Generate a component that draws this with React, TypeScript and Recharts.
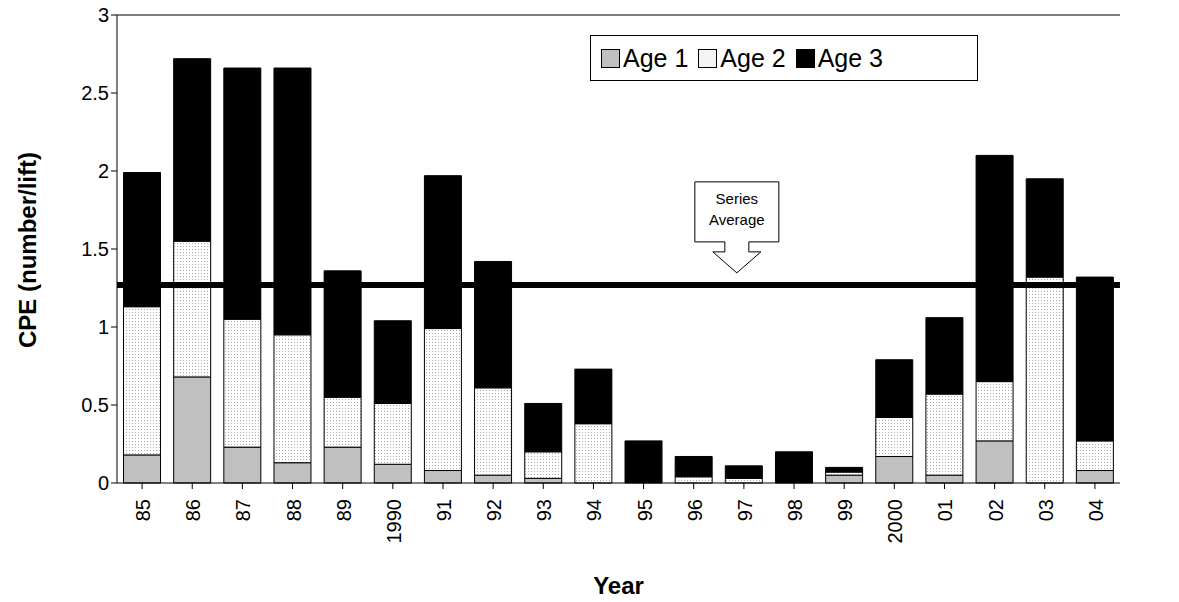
import { BarChart, Bar, XAxis, YAxis, ReferenceLine } from "recharts";

const years = ["85", "86", "87", "88", "89", "1990", "91", "92", "93", "94", "95", "96", "97", "98", "99", "2000", "01", "02", "03", "04"];
const age1 = [0.18, 0.68, 0.23, 0.13, 0.23, 0.12, 0.08, 0.05, 0.03, 0, 0, 0, 0, 0, 0.05, 0.17, 0.05, 0.27, 0, 0.08];
const age2 = [0.95, 0.87, 0.82, 0.82, 0.32, 0.39, 0.91, 0.56, 0.17, 0.38, 0, 0.04, 0.03, 0, 0.02, 0.25, 0.52, 0.38, 1.32, 0.19];
const age3 = [0.86, 1.17, 1.61, 1.71, 0.81, 0.53, 0.98, 0.81, 0.31, 0.35, 0.27, 0.13, 0.08, 0.2, 0.03, 0.37, 0.49, 1.45, 0.63, 1.05];
const seriesAverage = 1.27;
const yTicks = [0, 0.5, 1, 1.5, 2, 2.5, 3];

const data = years.map((y, i) => ({ year: y, age1: age1[i], age2: age2[i], age3: age3[i] }));

const font = "Arial, 'Liberation Sans', sans-serif";

const Callout = (props: any) => {
  const { viewBox } = props;
  const cx = viewBox.x + viewBox.width * 0.618;
  const ly = viewBox.y;
  const top = ly - 103, boxB = ly - 43;
  const w = 42;
  const d = `M${cx - w},${top} H${cx + w} V${boxB} H${cx + 12} V${boxB + 10} H${cx + 24} L${cx},${ly - 12} L${cx - 24},${boxB + 10} H${cx - 12} V${boxB} H${cx - w} Z`;
  return (
    <g>
      <path d={d} fill="#fff" stroke="#000" strokeWidth={1} />
      <text x={cx} y={top + 22} textAnchor="middle" fontSize={15} fontFamily={font}>Series</text>
      <text x={cx} y={top + 43} textAnchor="middle" fontSize={15} fontFamily={font}>Average</text>
    </g>
  );
};

const YLabel = () => (
  <text x={30} y={250} transform="rotate(-90 30 250)" textAnchor="middle" dominantBaseline="middle" fontSize={24} fontWeight="bold" fontFamily={font} fill="#000">
    CPE (number/lift)
  </text>
);

const legendItems = [
  { name: "Age 1", fill: "#c0c0c0" },
  { name: "Age 2", fill: "#f4f4f4" },
  { name: "Age 3", fill: "#000" },
];

export default function App() {
  return (
    <div style={{ position: "absolute", left: 0, top: 0, background: "#fff", width: 1179, height: 602 }}>
      <BarChart width={1179} height={602} data={data} margin={{ top: 15, right: 59, left: 15, bottom: 8 }} barCategoryGap="13%">
        <defs>
          <pattern id="dots" width="3" height="3" patternUnits="userSpaceOnUse">
            <rect width="3" height="3" fill="#fff" />
            <rect width="1" height="1" fill="#aaa" />
          </pattern>
        </defs>
        <XAxis
          dataKey="year"
          interval={0}
          height={111}
          tickLine={{ stroke: "#000" }}
          axisLine={{ stroke: "#000" }}
          tick={(p: any) => (
            <text x={p.x + 8} y={p.y + 8} transform={`rotate(-90 ${p.x + 8} ${p.y + 8})`} textAnchor="end" fontSize={20} fontFamily={font} fill="#000">
              {p.payload.value}
            </text>
          )}
          label={{ value: "Year", position: "insideBottom", offset: 0, fontSize: 24, fontWeight: "bold", fontFamily: font, fill: "#000" }}
        />
        <YAxis
          domain={[0, 3]}
          ticks={yTicks}
          width={102}
          tickLine={{ stroke: "#000" }}
          axisLine={{ stroke: "#000" }}
          tick={{ fontSize: 20, fontFamily: font, fill: "#000" }}
          label={<YLabel />}
        />
        <ReferenceLine y={3} stroke="#000" strokeWidth={1} />
        <Bar dataKey="age1" stackId="a" fill="#c0c0c0" stroke="#000" strokeWidth={1} isAnimationActive={false} />
        <Bar dataKey="age2" stackId="a" fill="url(#dots)" stroke="#000" strokeWidth={1} isAnimationActive={false} />
        <Bar dataKey="age3" stackId="a" fill="#000" stroke="#000" strokeWidth={1} isAnimationActive={false} />
        <ReferenceLine y={seriesAverage} stroke="#000" strokeWidth={6} label={<Callout />} />
      </BarChart>
      <div style={{ position: "absolute", left: 590, top: 35, display: "flex", alignItems: "center", border: "1px solid #000", background: "#fff", padding: "6px 10px", fontFamily: font, fontSize: 25, width: 388, boxSizing: "border-box", height: 46 }}>
        {legendItems.map((e) => (
          <span key={e.name} style={{ display: "flex", alignItems: "center", marginRight: 10 }}>
            <span style={{ width: 17, height: 17, background: e.fill, border: "1px solid #000", marginRight: 3 }} />
            {e.name}
          </span>
        ))}
      </div>
    </div>
  );
}
